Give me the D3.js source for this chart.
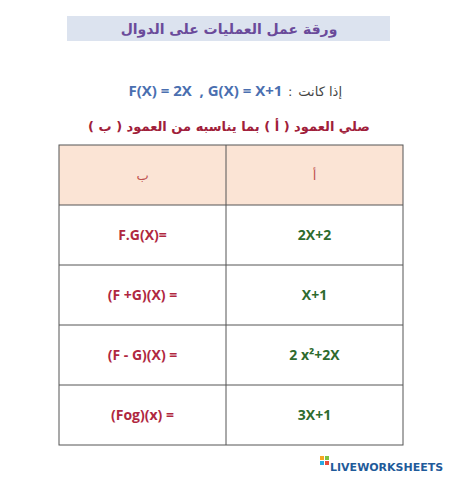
<!DOCTYPE html>
<html><head><meta charset="utf-8">
<script src="https://cdn.jsdelivr.net/npm/d3@7"></script>
<style>body{margin:0;background:#fff}</style>
</head><body><div id="sheet"></div>
<script>
// worksheet content
var title = "ورقة عمل العمليات على الدوال";
var givenLine = "إذا كانت";
var givenFormula = "F(X) = 2X  , G(X) = X+1";
var instruction = "صلي العمود ( أ ) بما يناسبه من العمود ( ب )";
var headers = ["ب", "أ"];
var colB = ["F.G(X)=", "(F +G)(X) =", "(F - G)(X) =", "(Fog)(x) ="];
var colA = ["2X+2", "X+1", "2 x²+2X", "3X+1"];

var width = 458, height = 480;
var svg = d3.select("#sheet").append("svg").attr("width", width).attr("height", height);

// title box
svg.append("rect").attr("x", 67).attr("y", 16).attr("width", 323).attr("height", 25).attr("fill", "#dce3ef");
svg.append("text").attr("x", 229).attr("y", 34).attr("text-anchor", "middle")
    .attr("font-family", "DejaVu Sans").attr("font-size", 14).attr("font-weight", "bold")
    .attr("fill", "#6a4a9a").text(title);

// given line: formula, colon, arabic (right to left)
var lineY = 96;
var ar = svg.append("text").attr("x", 342).attr("y", lineY).attr("text-anchor", "end")
    .attr("font-family", "DejaVu Sans").attr("font-size", 13).attr("fill", "#444").text(givenLine);
var arW = ar.node().getComputedTextLength();
svg.append("text").attr("x", 342 - arW - 6).attr("y", lineY).attr("text-anchor", "end")
    .attr("font-family", "DejaVu Sans").attr("font-size", 13).attr("fill", "#444").text(":");
svg.append("text").attr("x", 342 - arW - 16).attr("y", lineY).attr("text-anchor", "end")
    .attr("font-family", "Open Sans").attr("font-size", 15).attr("font-weight", "bold")
    .attr("fill", "#4a6fb0").attr("xml:space", "preserve").text(givenFormula);

svg.append("text").attr("x", 229).attr("y", 131).attr("text-anchor", "middle")
    .attr("font-family", "DejaVu Sans").attr("font-size", 13).attr("font-weight", "bold")
    .attr("fill", "#a0203a").attr("direction", "rtl").text(instruction);

// table
var rows = ["h"].concat(colB.map(function(d, i) { return i; }));
var yScale = d3.scaleBand().domain(rows).range([145, 445]);
var xScale = d3.scaleOrdinal().domain([0, 1, 2]).range([59, 226, 403]);
function colMid(i) { return (xScale(i) + xScale(i + 1)) / 2; }

svg.append("rect").attr("x", 59).attr("y", 145).attr("width", 344).attr("height", yScale.bandwidth())
    .attr("fill", "#fbe4d5");

var cellFont = "Open Sans";
svg.selectAll(".hdr").data(headers).enter().append("text")
    .attr("x", function(d, i) { return colMid(i); })
    .attr("y", yScale("h") + yScale.bandwidth() / 2 + 5)
    .attr("text-anchor", "middle").attr("font-family", "DejaVu Sans").attr("font-size", 13)
    .attr("fill", "#c0504d").text(function(d) { return d; });

svg.selectAll(".cb").data(colB).enter().append("text")
    .attr("x", colMid(0))
    .attr("y", function(d, i) { return yScale(i) + yScale.bandwidth() / 2 + 5; })
    .attr("text-anchor", "middle").attr("font-family", cellFont).attr("font-size", 14)
    .attr("font-weight", "bold").attr("fill", "#b0283f").text(function(d) { return d; });

svg.selectAll(".ca").data(colA).enter().append("text")
    .attr("x", colMid(1))
    .attr("y", function(d, i) { return yScale(i) + yScale.bandwidth() / 2 + 5; })
    .attr("text-anchor", "middle").attr("font-family", cellFont).attr("font-size", 14)
    .attr("font-weight", "bold").attr("fill", "#2e6b2e").text(function(d) { return d; });

// grid lines
svg.selectAll(".hl").data(rows.slice(1)).enter().append("line")
    .attr("x1", 59).attr("x2", 403)
    .attr("y1", function(d) { return yScale(d); }).attr("y2", function(d) { return yScale(d); })
    .attr("stroke", "#555").attr("stroke-width", 1);
svg.append("line").attr("x1", xScale(1)).attr("x2", xScale(1)).attr("y1", 145).attr("y2", 445)
    .attr("stroke", "#555");
svg.append("rect").attr("x", 59).attr("y", 145).attr("width", 344).attr("height", 300)
    .attr("fill", "none").attr("stroke", "#555");

// logo
var lg = svg.append("g").attr("transform", "translate(320,464)");
[["#f6a623", 0, 0], ["#7cc242", 5, 0], ["#29a9e1", 0, 5], ["#e84c3d", 5, 5]].forEach(function(c) {
    lg.append("rect").attr("x", c[1]).attr("y", c[2] - 8).attr("width", 4).attr("height", 4).attr("fill", c[0]);
});
svg.append("text").attr("x", 330).attr("y", 471).attr("font-family", "DejaVu Sans").attr("font-weight", "bold")
    .attr("font-size", 11).attr("fill", "#1f5b9a").text("LIVEWORKSHEETS");
</script></body></html>
